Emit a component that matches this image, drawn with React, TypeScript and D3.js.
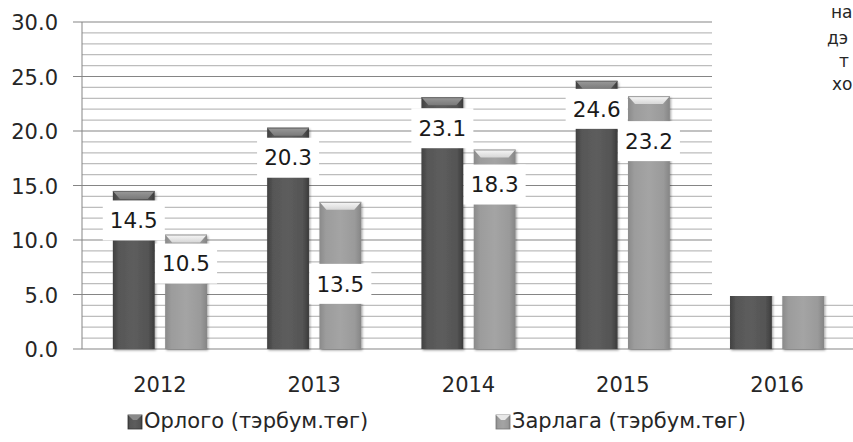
import React from "react";
import * as d3 from "d3";

// Өгөгдөл (тэрбум төгрөг)
const years = ["2012", "2013", "2014", "2015", "2016"];
const seriesNames = ["Орлого (тэрбум.төг)", "Зарлага (тэрбум.төг)"];
const income = [14.5, 20.3, 23.1, 24.6, 26.8]; // 2016 нь текст хайрцагт далдлагдсан, ойролцоо
const expense = [10.5, 13.5, 18.3, 23.2, 25.5];
const yTicks = [0, 5, 10, 15, 20, 25, 30];
const noteFragments = ["на", "дэ", "т", "хо"];

const W = 853;
const H = 442;
const FONT = "'DejaVu Sans', 'Open Sans', sans-serif";

// шошгоны босоо шилжилт (баганы оройгоос)
const labelShift = [
  [29.5, 30, 31, 28, 30],
  [29, 82, 35, 45, 30],
];

export default function App() {
  const x0 = d3.scaleBand().domain(years).range([82, 855]).paddingInner(0.39).paddingOuter(0.2);
  const x1 = d3.scaleBand().domain(seriesNames).range([0, x0.bandwidth()]).paddingInner(0.2);
  const y = d3.scaleLinear().domain([0, 30]).range([349, 22]);

  const minor = d3.range(0, 30.01, 1).filter((v) => v % 5 !== 0);
  const series = [income, expense];
  const fills = ["url(#gDark)", "url(#gLight)"];

  const bars = years.flatMap((yr, i) =>
    series.map((vals, s) => {
      const bx = (x0(yr) ?? 0) + (x1(seriesNames[s]) ?? 0);
      const bw = x1.bandwidth();
      const top = y(vals[i]);
      return { yr, s, v: vals[i], bx, bw, top, ly: top + labelShift[s][i] };
    })
  );

  return (
    <svg width={W} height={H} style={{ position: "absolute", left: 0, top: 0, background: "#fff" }}>
      <defs>
        <linearGradient id="gDark" x1="0" x2="1" y1="0" y2="0">
          <stop offset="0" stopColor="#404040" />
          <stop offset="0.15" stopColor="#575757" />
          <stop offset="0.5" stopColor="#5d5d5d" />
          <stop offset="0.85" stopColor="#545454" />
          <stop offset="1" stopColor="#3b3b3b" />
        </linearGradient>
        <linearGradient id="gLight" x1="0" x2="1" y1="0" y2="0">
          <stop offset="0" stopColor="#8a8a8a" />
          <stop offset="0.15" stopColor="#9c9c9c" />
          <stop offset="0.5" stopColor="#a4a4a4" />
          <stop offset="0.85" stopColor="#9a9a9a" />
          <stop offset="1" stopColor="#858585" />
        </linearGradient>
        <linearGradient id="capDark" x1="0" x2="0" y1="0" y2="1">
          <stop offset="0" stopColor="#9a9a9a" />
          <stop offset="1" stopColor="#7a7a7a" />
        </linearGradient>
        <linearGradient id="capLight" x1="0" x2="0" y1="0" y2="1">
          <stop offset="0" stopColor="#f8f8f8" />
          <stop offset="1" stopColor="#d6d6d6" />
        </linearGradient>
        <filter id="shadow" x="-20%" y="-5%" width="140%" height="110%">
          <feDropShadow dx="1.2" dy="1.5" stdDeviation="1.2" floodColor="#000" floodOpacity="0.35" />
        </filter>
      </defs>

      {/* туслах шугамууд */}
      {minor.map((v) => (
        <line key={"m" + v} x1={82} x2={855} y1={y(v)} y2={y(v)} stroke="#bdbdbd" strokeWidth={1.3} />
      ))}
      {yTicks.map((v) => (
        <line key={"M" + v} x1={73} x2={855} y1={y(v)} y2={y(v)} stroke="#858585" strokeWidth={1} />
      ))}
      <line x1={82} x2={82} y1={y(30)} y2={y(0)} stroke="#858585" strokeWidth={1} />

      {yTicks.map((v) => (
        <text key={"t" + v} x={58} y={y(v) + 8} textAnchor="end" fontFamily={FONT} fontSize={21} fill="#262626">
          {v.toFixed(1)}
        </text>
      ))}

      {/* баганууд */}
      {bars.map((b) => {
        const cap = 8;
        const inset = 7;
        return (
          <g key={b.yr + b.s}>
            <rect x={b.bx} y={b.top} width={b.bw} height={y(0) - b.top} fill={fills[b.s]} filter="url(#shadow)" />
            <polygon
              points={`${b.bx},${b.top} ${b.bx + b.bw},${b.top} ${b.bx + b.bw - inset},${b.top + cap} ${b.bx + inset},${b.top + cap}`}
              fill={b.s === 0 ? "url(#capDark)" : "url(#capLight)"}
            />
            <line x1={b.bx} x2={b.bx + b.bw} y1={b.top + 0.5} y2={b.top + 0.5} stroke={b.s === 0 ? "#6a6a6a" : "#9a9a9a"} />
          </g>
        );
      })}

      {/* утгын шошго */}
      {bars.map((b) => (
        <g key={"l" + b.yr + b.s}>
          <rect x={b.bx + b.bw / 2 - 31} y={b.ly - 20} width={62} height={40} fill="#fff" />
          <text x={b.bx + b.bw / 2} y={b.ly} dy="0.36em" textAnchor="middle" fontFamily={FONT} fontSize={21.5} fill="#1a1a1a">
            {b.v.toFixed(1)}
          </text>
        </g>
      ))}

      {/* X тэнхлэгийн шошго */}
      {years.map((yr) => (
        <text key={"x" + yr} x={(x0(yr) ?? 0) + x0.bandwidth() / 2} y={392} textAnchor="middle" fontFamily={FONT} fontSize={21} fill="#262626">
          {yr}
        </text>
      ))}

      {/* тайлбар */}
      {seriesNames.map((name, s) => {
        const lx = s === 0 ? 128 : 496;
        return (
          <g key={"lg" + s}>
            <rect x={lx} y={415} width={14} height={14} fill={fills[s]} stroke={s === 0 ? "#333" : "#777"} strokeWidth={0.8} />
            <polygon
              points={`${lx},${415} ${lx + 14},${415} ${lx + 9},${420} ${lx + 5},${420}`}
              fill={s === 0 ? "#8a8a8a" : "#e8e8e8"}
            />
            <text x={lx + 16} y={428} fontFamily={FONT} fontSize={21} fill="#262626">
              {name}
            </text>
          </g>
        );
      })}

      {/* дээд баруун текст хайрцаг */}
      <rect x={712} y={0} width={150} height={296} fill="#fff" />
      {noteFragments.map((t, i) => (
        <text key={"n" + i} x={[831, 827, 839, 832][i]} y={[18, 44, 67, 90][i]} fontFamily={FONT} fontSize={17} fill="#262626">
          {t}
        </text>
      ))}
    </svg>
  );
}
